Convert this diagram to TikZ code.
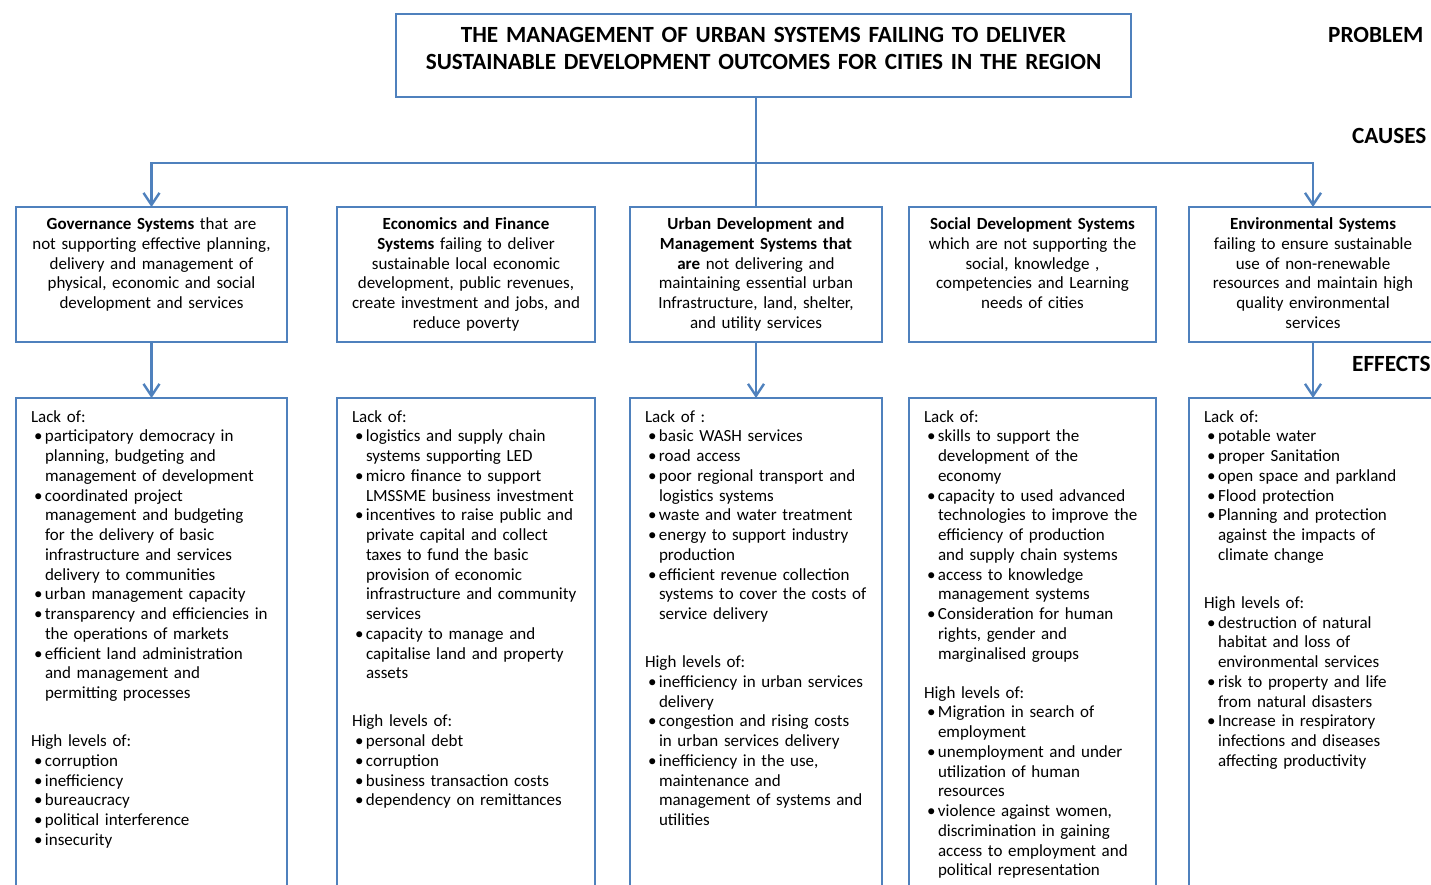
\documentclass[tikz,border=0pt]{standalone}
\usepackage{fontspec}
\setmainfont{Carlito}
\usepackage{tikz}
\usetikzlibrary{positioning,arrows.meta}
\definecolor{linkblue}{RGB}{79,129,189}
\newcommand{\bul}{\par\hangindent=14pt\hangafter=1\noindent\makebox[14pt][l]{\hspace{3pt}\textbullet}}

\begin{document}
\begin{tikzpicture}[
    x=1pt, y=-1pt,
    font=\fontsize{17pt}{19.75pt}\selectfont,
    >={Straight Barb[length=12pt,width=16pt]},
    problembox/.style={
        draw=linkblue,
        line width=2.4pt,
        outer sep=0pt,
        align=center,
        text width=723pt,
        inner xsep=6pt,
        inner ysep=6pt,
        text height=22pt,
        text depth=49pt,
        font=\fontsize{23.2pt}{27pt}\selectfont\bfseries
    },
    causebox/.style={
        draw=linkblue,
        line width=2.4pt,
        outer sep=0pt,
        align=center,
        inner xsep=8pt,
        inner ysep=6pt,
        text height=16.5pt,
        text depth=106.5pt
    },
    effectbox/.style={
        draw=linkblue,
        line width=2.4pt,
        outer sep=0pt,
        align=left,
        inner xsep=15pt,
        inner ysep=6pt,
        text height=18pt,
        text depth=472pt
    },
    sidelabel/.style={
        anchor=west,
        inner sep=0pt,
        font=\fontsize{23.2pt}{27pt}\selectfont\bfseries
    },
    link/.style={draw=linkblue, line width=2.4pt}
]
\useasboundingbox (0,0) rectangle (1431,884);
\clip (0,0) rectangle (1431,884);

% Problem
\node[problembox, anchor=north] (prob) at (763.5,14) {THE MANAGEMENT OF URBAN SYSTEMS FAILING TO DELIVER\\SUSTAINABLE DEVELOPMENT OUTCOMES FOR CITIES IN THE REGION};

% Side labels
\node[sidelabel] (problbl) at (1328,35) {PROBLEM};
\node[sidelabel] (causelbl) at (1352,136) {CAUSES};
\node[sidelabel] (effectlbl) at (1352,364) {EFFECTS};

% Causes
\node[causebox, text width=255pt, anchor=north] (gov) at (151.5,207) {\textbf{Governance Systems} that are\\not supporting effective planning,\\delivery and management of\\physical, economic and social\\development and services};
\node[causebox, text width=242pt, right=50pt of gov] (econ) {\textbf{Economics and Finance}\\\textbf{Systems} failing to deliver\\sustainable local economic\\development, public revenues,\\create investment and jobs, and\\reduce poverty};
\node[causebox, text width=236pt, right=35pt of econ] (urban) {\textbf{Urban Development and}\\\textbf{Management Systems that}\\\textbf{are} not delivering and\\maintaining essential urban\\Infrastructure, land, shelter,\\and utility services};
\node[causebox, text width=231pt, right=27pt of urban] (social) {\textbf{Social Development Systems}\\which are not supporting the\\social, knowledge ,\\competencies and Learning\\needs of cities};
\node[causebox, text width=232pt, right=33pt of social] (env) {\textbf{Environmental Systems}\\failing to ensure sustainable\\use of non-renewable\\resources and maintain high\\quality environmental\\services};

% Effects
\node[effectbox, text width=241pt, below=56pt of gov] (govfx) {Lack of:
\bul participatory democracy in\newline planning, budgeting and\newline management of development
\bul coordinated project\newline management and budgeting\newline for the delivery of basic\newline infrastructure and services\newline delivery to communities
\bul urban management capacity
\bul transparency and efficiencies in\newline the operations of markets
\bul efficient land administration\newline and management and\newline permitting processes
\par\vspace{28.25pt}\noindent High levels of:
\bul corruption
\bul inefficiency
\bul bureaucracy
\bul political interference
\bul insecurity\par};
\node[effectbox, text width=228pt, below=56pt of econ] (econfx) {Lack of:
\bul logistics and supply chain\newline systems supporting LED
\bul micro finance to support\newline LMSSME business investment
\bul incentives to raise public and\newline private capital and collect\newline taxes to fund the basic\newline provision of economic\newline infrastructure and community\newline services
\bul capacity to manage and\newline capitalise land and property\newline assets
\par\vspace{28.25pt}\noindent High levels of:
\bul personal debt
\bul corruption
\bul business transaction costs
\bul dependency on remittances\par};
\node[effectbox, text width=222pt, below=56pt of urban] (urbanfx) {Lack of :
\bul basic WASH services
\bul road access
\bul poor regional transport and\newline logistics systems
\bul waste and water treatment
\bul energy to support industry\newline production
\bul efficient revenue collection\newline systems to cover the costs of\newline service delivery
\par\vspace{28.25pt}\noindent High levels of:
\bul inefficiency in urban services\newline delivery
\bul congestion and rising costs\newline in urban services delivery
\bul inefficiency in the use,\newline maintenance and\newline management of systems and\newline utilities\par};
\node[effectbox, text width=217pt, below=56pt of social] (socialfx) {Lack of:
\bul skills to support the\newline development of the\newline economy
\bul capacity to used advanced\newline technologies to improve the\newline efficiency of production\newline and supply chain systems
\bul access to knowledge\newline management systems
\bul Consideration for human\newline rights, gender and\newline marginalised groups
\par\vspace{19.25pt}\noindent High levels of:
\bul Migration in search of\newline employment
\bul unemployment and under\newline utilization of human\newline resources
\bul violence against women,\newline discrimination in gaining\newline access to employment and\newline political representation\par};
\node[effectbox, text width=218pt, below=56pt of env] (envfx) {Lack of:
\bul potable water
\bul proper Sanitation
\bul open space and parkland
\bul Flood protection
\bul Planning and protection\newline against the impacts of\newline climate change
\par\vspace{28.25pt}\noindent High levels of:
\bul destruction of natural\newline habitat and loss of\newline environmental services
\bul risk to property and life\newline from natural disasters
\bul Increase in respiratory\newline infections and diseases\newline affecting productivity\par};

% Connections
\coordinate[above=44pt of urban.north] (split);
\draw[link] (prob.south -| urban.north) -- (urban.north);
\draw[link, ->] (split) -| (gov.north);
\draw[link, ->] (split) -| (env.north);
\draw[link, ->] (gov) -- (govfx);
\draw[link, ->] (urban) -- (urbanfx);
\draw[link, ->] (env) -- (envfx);

\end{tikzpicture}
\end{document}
